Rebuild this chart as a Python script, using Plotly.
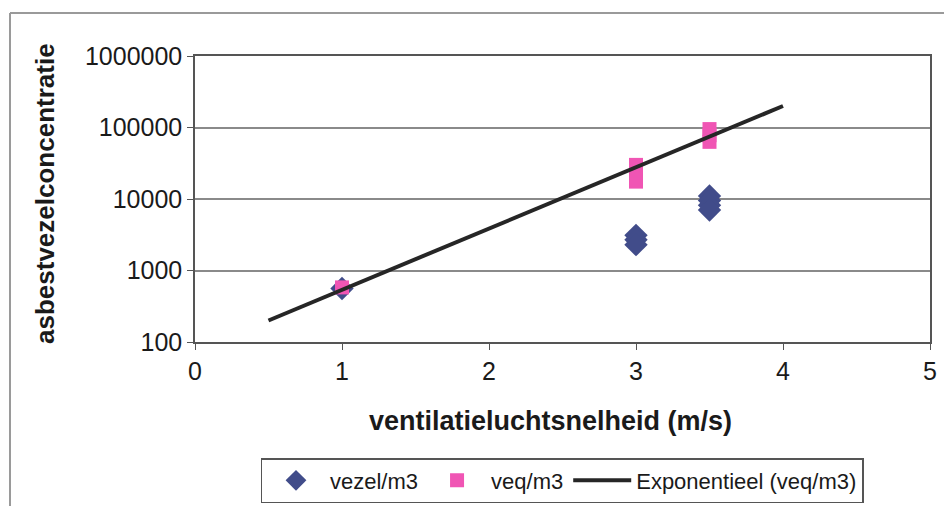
import plotly.graph_objects as go

# data
vezel_x = [1, 3, 3, 3, 3.5, 3.5, 3.5, 3.5]
vezel_y = [560, 3100, 2700, 2300, 11000, 9500, 8200, 7000]
veq_x = [1, 3, 3, 3, 3.5, 3.5, 3.5]
veq_y = [580, 30000, 23000, 17500, 95000, 78000, 63000]
trend_x = [0.5, 4]
trend_y = [200, 200000]
y_ticks = [100, 1000, 10000, 100000, 1000000]
x_ticks = [0, 1, 2, 3, 4, 5]

FONT = "Liberation Sans, Arial, sans-serif"


def px(v):  # page pixel -> paper x
    return (v - 195) / 735


def py(v):  # page pixel -> paper y
    return (342 - v) / 286


fig = go.Figure()
fig.add_trace(go.Scatter(x=vezel_x, y=vezel_y, mode="markers", name="vezel/m3",
                         marker=dict(symbol="diamond", size=18, color="#414C8A")))
fig.add_trace(go.Scatter(x=veq_x, y=veq_y, mode="markers", name="veq/m3",
                         marker=dict(symbol="square", size=14, color="#F055B4")))
fig.add_trace(go.Scatter(x=trend_x, y=trend_y, mode="lines", name="Exponentieel (veq/m3)",
                         line=dict(color="#262626", width=4)))

fig.update_layout(
    width=944, height=498,
    margin=dict(l=187, r=22, t=48, b=164, autoexpand=False),
    paper_bgcolor="white", plot_bgcolor="white",
    font=dict(family=FONT, size=25, color="#1a1a1a"),
    showlegend=True,
    legend=dict(orientation="h", x=px(562), xanchor="center", y=py(458), yanchor="top",
                bordercolor="#555555", borderwidth=1.5, font=dict(size=22),
                itemwidth=58, tracegroupgap=0, bgcolor="white"),
    xaxis=dict(range=[0, 5], tickvals=x_ticks, ticktext=[str(v) for v in x_ticks],
               showgrid=False, ticks="outside", ticklen=6, tickcolor="#555",
               showline=True, linecolor="#555", linewidth=1.5, mirror=True,
               tickfont=dict(size=25), zeroline=False),
    yaxis=dict(type="log", range=[2, 6], tickvals=y_ticks, ticktext=[str(v) for v in y_ticks],
               showgrid=True, gridcolor="#8a8a8a", gridwidth=1.5,
               ticks="outside", ticklen=6, tickcolor="#555",
               showline=True, linecolor="#555", linewidth=1.5, mirror=True,
               tickfont=dict(size=25)),
)

fig.add_annotation(text="<b>ventilatieluchtsnelheid (m/s)</b>", xref="paper", yref="paper",
                   x=px(550), y=py(421), showarrow=False,
                   xanchor="center", yanchor="middle", font=dict(size=27, family=FONT))
fig.add_annotation(text="<b>asbestvezelconcentratie</b>", xref="paper", yref="paper",
                   x=px(45), y=py(194), showarrow=False, textangle=-90,
                   xanchor="center", yanchor="middle", font=dict(size=26, family=FONT))

# outer chart border (top and left edges visible in the reference)
fig.add_shape(type="line", xref="paper", yref="paper",
              x0=px(10), x1=px(960), y0=py(13), y1=py(13),
              line=dict(color="#9a9a9a", width=2))
fig.add_shape(type="line", xref="paper", yref="paper",
              x0=px(10), x1=px(10), y0=py(13), y1=py(515),
              line=dict(color="#9a9a9a", width=2))

fig.write_html("out.html")
